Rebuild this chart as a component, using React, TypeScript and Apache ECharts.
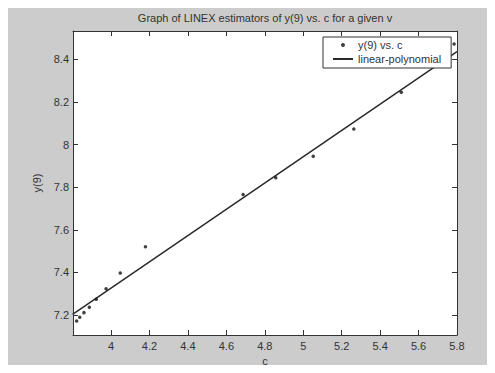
import React, { useEffect, useRef } from "react";
import * as echarts from "echarts";

const cValues = [3.821, 3.837, 3.859, 3.887, 3.923, 3.974, 4.048, 4.179, 4.687, 4.857, 5.052, 5.263, 5.510, 5.785];
const yValues = [7.172, 7.189, 7.211, 7.236, 7.274, 7.323, 7.397, 7.520, 7.766, 7.844, 7.945, 8.073, 8.245, 8.472];
const fitC = [3.8, 5.8];
const fitY = [7.203, 8.436];
const xTicks = [4, 4.2, 4.4, 4.6, 4.8, 5, 5.2, 5.4, 5.6, 5.8];
const yTicks = [7.2, 7.4, 7.6, 7.8, 8, 8.2, 8.4];
const titleText = "Graph of LINEX estimators of y(9) vs. c for a given v";

const FONT = "'Liberation Sans', Arial, sans-serif";
const INK = "#333333";

export default function App() {
  const ref = useRef<HTMLDivElement>(null);
  useEffect(() => {
    if (!ref.current) return;
    const chart = echarts.init(ref.current, null, { renderer: "svg" });
    const xMin = 3.802, xMax = 5.8, yMin = 7.106, yMax = 8.533;
    const baseAxis = {
      axisLine: { show: true, onZero: false, lineStyle: { color: INK, width: 1 } },
      splitLine: { show: false },
    };
    chart.setOption({
      animation: false,
      backgroundColor: "#cccccc",
      textStyle: { fontFamily: FONT },
      graphic: [
        {
          type: "text",
          x: 265,
          y: 18,
          style: {
            text: titleText,
            fill: INK,
            font: `11px ${FONT}`,
            align: "center",
            verticalAlign: "middle",
          },
        },
      ],
      grid: {
        left: 73,
        right: 38,
        top: 31,
        bottom: 38,
        show: true,
        backgroundColor: "#ffffff",
        borderWidth: 0,
      },
      legend: {
        left: 323,
        top: 37,
        orient: "vertical",
        backgroundColor: "#ffffff",
        borderColor: INK,
        borderWidth: 1,
        borderRadius: 0,
        padding: [1, 10, 2, 9],
        itemGap: 0,
        itemWidth: 20,
        itemHeight: 4,
        textStyle: { color: INK, fontSize: 11, fontFamily: FONT, lineHeight: 14 },
        data: [
          { name: "y(9) vs. c", icon: "circle" },
          { name: "linear-polynomial", itemStyle: { opacity: 0 } },
        ],
      },
      xAxis: [
        {
          ...baseAxis,
          type: "value",
          position: "bottom",
          min: xMin,
          max: xMax,
          name: "c",
          nameLocation: "middle",
          nameGap: 17,
          nameTextStyle: { color: INK, fontSize: 11, fontFamily: FONT },
          axisTick: { show: true, inside: true, length: 5, customValues: xTicks, lineStyle: { color: INK } },
          axisLabel: { color: INK, fontSize: 11, fontFamily: FONT, margin: 5, customValues: xTicks },
        },
        {
          ...baseAxis,
          type: "value",
          position: "top",
          min: xMin,
          max: xMax,
          axisTick: { show: true, inside: true, length: 5, customValues: xTicks, lineStyle: { color: INK } },
          axisLabel: { show: false, customValues: xTicks },
        },
      ],
      yAxis: [
        {
          ...baseAxis,
          type: "value",
          position: "left",
          min: yMin,
          max: yMax,
          name: "y(9)",
          nameLocation: "middle",
          nameGap: 28,
          nameTextStyle: { color: INK, fontSize: 11, fontFamily: FONT },
          axisTick: { show: true, inside: true, length: 5, customValues: yTicks, lineStyle: { color: INK } },
          axisLabel: { color: INK, fontSize: 11, fontFamily: FONT, margin: 4, customValues: yTicks },
        },
        {
          ...baseAxis,
          type: "value",
          position: "right",
          min: yMin,
          max: yMax,
          axisTick: { show: true, inside: true, length: 5, customValues: yTicks, lineStyle: { color: INK } },
          axisLabel: { show: false, customValues: yTicks },
        },
      ],
      series: [
        {
          name: "y(9) vs. c",
          type: "scatter",
          symbol: "circle",
          symbolSize: 3.5,
          itemStyle: { color: "#111111" },
          data: cValues.map((c, i) => [c, yValues[i]]),
          z: 3,
        },
        {
          name: "linear-polynomial",
          type: "line",
          symbol: "none",
          lineStyle: { color: "#2a2a2a", width: 1.5 },
          itemStyle: { color: "#2a2a2a" },
          data: fitC.map((c, i) => [c, fitY[i]]),
          z: 2,
        },
      ],
    });
    return () => chart.dispose();
  }, []);
  return <div ref={ref} style={{ width: 495, height: 373, margin: -8 }} />;
}
